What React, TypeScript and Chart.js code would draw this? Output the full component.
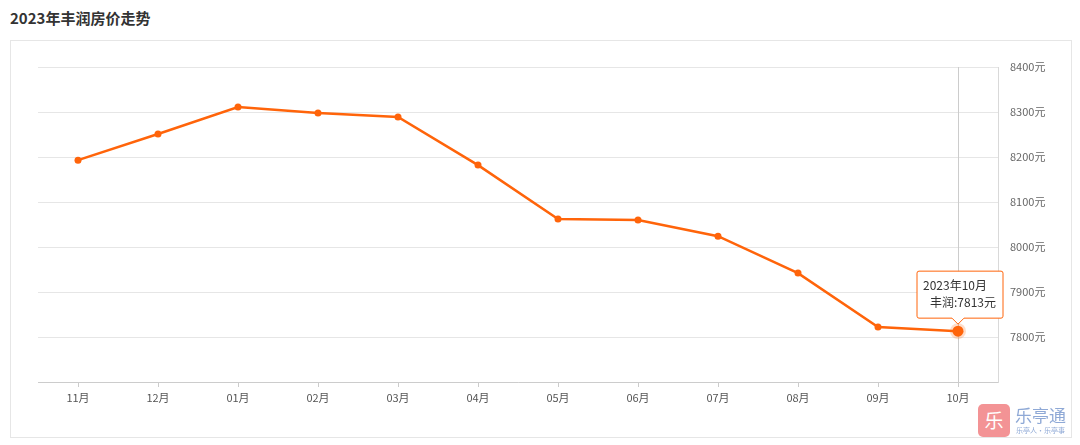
import React, { useEffect, useRef } from "react";
import { Chart, registerables } from "chart.js";

Chart.register(...registerables);

const months = ["11月", "12月", "01月", "02月", "03月", "04月", "05月", "06月", "07月", "08月", "09月", "10月"];
const prices = [8193, 8251, 8311, 8298, 8289, 8182, 8062, 8060, 8024, 7942, 7822, 7813];
const seriesName = "丰润";
const tooltipTitle = "2023年10月";
const yMin = 7700;
const yMax = 8400;
const yStep = 100;

const FONT = '"Noto Sans CJK SC", "Noto Sans", sans-serif';
const ORANGE = "#ff640a";

const overlayPlugin = {
  id: "overlay",
  afterDatasetsDraw(chart: any) {
    const ctx = chart.ctx;
    const meta = chart.getDatasetMeta(0);
    const idx = prices.length - 1;
    const pt = meta.data[idx];
    const x = pt.x;
    const y = pt.y;
    ctx.save();
    ctx.beginPath();
    ctx.arc(x, y, 8, 0, Math.PI * 2);
    ctx.fillStyle = "rgba(255,100,10,0.22)";
    ctx.fill();
    ctx.beginPath();
    ctx.arc(x, y, 5.5, 0, Math.PI * 2);
    ctx.fillStyle = ORANGE;
    ctx.fill();
    const w = 86;
    const h = 47;
    const bx = x - 41;
    const by = y - 60;
    const ax = x;
    const ay = by + h + 6;
    ctx.beginPath();
    ctx.moveTo(bx + 2, by);
    ctx.lineTo(bx + w - 2, by);
    ctx.quadraticCurveTo(bx + w, by, bx + w, by + 2);
    ctx.lineTo(bx + w, by + h - 2);
    ctx.quadraticCurveTo(bx + w, by + h, bx + w - 2, by + h);
    ctx.lineTo(ax + 6, by + h);
    ctx.lineTo(ax, ay);
    ctx.lineTo(ax - 6, by + h);
    ctx.lineTo(bx + 2, by + h);
    ctx.quadraticCurveTo(bx, by + h, bx, by + h - 2);
    ctx.lineTo(bx, by + 2);
    ctx.quadraticCurveTo(bx, by, bx + 2, by);
    ctx.closePath();
    ctx.fillStyle = "#ffffff";
    ctx.fill();
    ctx.lineWidth = 1;
    ctx.strokeStyle = ORANGE;
    ctx.stroke();
    ctx.fillStyle = "#333333";
    ctx.font = `12px ${FONT}`;
    ctx.textBaseline = "middle";
    ctx.textAlign = "left";
    ctx.fillText(tooltipTitle, bx + 6, by + 14);
    ctx.textAlign = "right";
    ctx.fillText(`${seriesName}:${prices[idx]}元`, bx + w - 7, by + 31);
    ctx.restore();
  },
  beforeDatasetsDraw(chart: any) {
    const ctx = chart.ctx;
    const meta = chart.getDatasetMeta(0);
    const pt = meta.data[prices.length - 1];
    const area = chart.chartArea;
    ctx.save();
    ctx.beginPath();
    ctx.moveTo(Math.round(pt.x) + 0.5, area.top);
    ctx.lineTo(Math.round(pt.x) + 0.5, area.bottom);
    ctx.strokeStyle = "#cccccc";
    ctx.lineWidth = 1;
    ctx.stroke();
    ctx.restore();
  },
};

export default function App() {
  const ref = useRef<HTMLCanvasElement | null>(null);
  useEffect(() => {
    if (!ref.current) return;
    const chart = new Chart(ref.current, {
      type: "line",
      data: {
        labels: months,
        datasets: [
          {
            label: seriesName,
            data: prices,
            borderColor: ORANGE,
            backgroundColor: ORANGE,
            borderWidth: 2.5,
            pointRadius: 3.5,
            pointBackgroundColor: ORANGE,
            pointBorderWidth: 0,
            tension: 0,
          },
        ],
      },
      options: {
        animation: false,
        responsive: false,
        maintainAspectRatio: false,
        layout: { padding: { left: 38, top: 67, right: 0, bottom: 0 } },
        plugins: { legend: { display: false }, tooltip: { enabled: false } },
        scales: {
          x: {
            offset: true,
            grid: { drawOnChartArea: false, drawTicks: true, tickLength: 5, color: "#cccccc", offset: false },
            border: { color: "#cccccc", width: 1 },
            ticks: { color: "#555555", font: { family: FONT, size: 11 }, padding: 4, maxRotation: 0 },
            afterFit(scale: any) {
              scale.height = 63;
            },
          },
          y: {
            position: "right",
            min: yMin,
            max: yMax,
            grid: { color: "#e6e6e6", drawTicks: false },
            border: { color: "#d9d9d9", width: 1 },
            ticks: {
              stepSize: yStep,
              color: "#666666",
              font: { family: FONT, size: 11 },
              padding: 12,
              callback: (v: any) => (Number(v) === yMin ? "" : `${v}元`),
            },
            afterFit(scale: any) {
              scale.width = 82;
            },
          },
        },
      },
      plugins: [overlayPlugin],
    });
    return () => chart.destroy();
  }, []);

  return (
    <div style={{ position: "absolute", left: 0, top: 0, width: 1080, height: 445, background: "#fff", fontFamily: FONT }}>
      <div style={{ position: "absolute", left: 10, top: 7, fontSize: 15, fontWeight: "bold", color: "#333", lineHeight: "22px" }}>
        2023年丰润房价走势
      </div>
      <div style={{ position: "absolute", left: 10, top: 40, width: 1060, height: 396, border: "1px solid #e6e6e6" }} />
      <canvas ref={ref} width={1080} height={445} style={{ position: "absolute", left: 0, top: 0, width: 1080, height: 445 }} />
      <div style={{ position: "absolute", left: 978, top: 404, width: 32, height: 33, background: "#f2888a", borderRadius: 5, color: "#fff", fontSize: 19, lineHeight: "31px", textAlign: "center", opacity: 0.9 }}>
        乐
      </div>
      <div style={{ position: "absolute", left: 1015, top: 405, color: "#8fa9d6", fontSize: 17, lineHeight: "20px" }}>
        乐亭通
      </div>
      <div style={{ position: "absolute", left: 1016, top: 426, color: "#8fa9d6", fontSize: 7, lineHeight: "9px", whiteSpace: "nowrap" }}>
        乐亭人·乐亭事
      </div>
    </div>
  );
}
